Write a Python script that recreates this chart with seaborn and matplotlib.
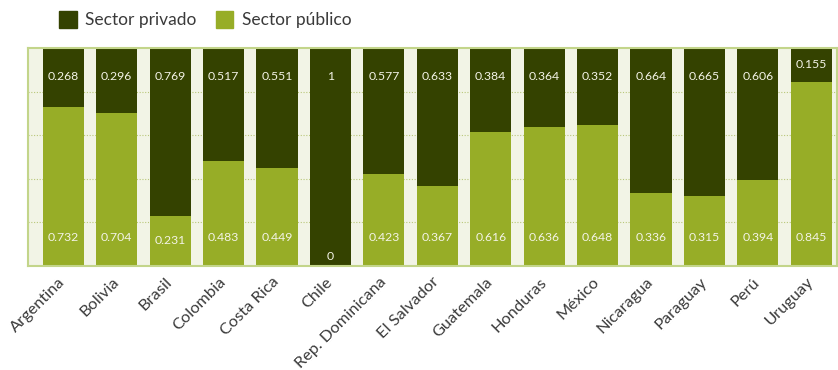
import numpy as np
import pandas as pd
import matplotlib
matplotlib.use("Agg")
import matplotlib.pyplot as plt
import matplotlib.patches as mpatches
import seaborn as sns

countries = ["Argentina", "Bolivia", "Brasil", "Colombia", "Costa Rica", "Chile",
             "Rep. Dominicana", "El Salvador", "Guatemala", "Honduras", "México",
             "Nicaragua", "Paraguay", "Perú", "Uruguay"]
privado = [0.268, 0.296, 0.769, 0.517, 0.551, 1, 0.577, 0.633, 0.384, 0.364,
           0.352, 0.664, 0.665, 0.606, 0.155]
publico = [0.732, 0.704, 0.231, 0.483, 0.449, 0, 0.423, 0.367, 0.616, 0.636,
           0.648, 0.336, 0.315, 0.394, 0.845]

dark = "#344200"
light = "#97ad27"
bg = "#f2f4e6"
edge = "#c3d58a"

df = pd.DataFrame({"pais": countries, "privado": privado, "publico": publico})
# 100% stacked: shares of the total
tot = df["privado"] + df["publico"]
df["total"] = tot / tot
df["pub_share"] = df["publico"] / tot

sns.set_style("white")
plt.rcParams["font.family"] = ["Lato", "DejaVu Sans"]

fig = plt.figure(figsize=(8.38, 3.70), dpi=100)
ax = fig.add_axes([0.0334, 0.281, 0.9654, 0.589])
ax.set_facecolor(bg)

sns.barplot(data=df, x="pais", y="total", color=dark, width=0.77, ax=ax,
            saturation=1, linewidth=0)
sns.barplot(data=df, x="pais", y="pub_share", color=light, width=0.77, ax=ax,
            saturation=1, linewidth=0)

for yv in [0.2, 0.4, 0.6, 0.8]:
    ax.axhline(yv, color="#b9c77a", lw=0.8, ls=(0, (1, 1.5)), zorder=0)

for i, (p, q) in enumerate(zip(privado, publico)):
    yp = max(0.87, 1 - p / 2)
    yq = max(min(0.13, q / 2), 0.045)
    ax.text(i, yp, f"{p:g}", ha="center", va="center", color="#f3f3e6", fontsize=8.8)
    ax.text(i, yq, f"{q:g}", ha="center", va="center", color="#f3f3e6", fontsize=8.8)

ax.set_xlim(-0.66, 14.48)
ax.set_ylim(0, 1.0)
ax.set_yticks([])
ax.set_xlabel("")
ax.set_ylabel("")
ax.tick_params(axis="x", length=0, pad=10)
ax.set_xticks(range(len(countries)))
ax.set_xticklabels(countries, rotation=45, ha="right", va="center",
                   rotation_mode="anchor", fontsize=11.8, color="#3a3a3a")
for side in ["left", "top", "bottom", "right"]:
    ax.spines[side].set_color(edge)
    ax.spines[side].set_linewidth(1.5)

handles = [mpatches.Patch(color=dark, label="Sector privado"),
           mpatches.Patch(color=light, label="Sector público")]
fig.legend(handles=handles, loc="upper left", bbox_to_anchor=(0.052, 1.012), ncol=2,
           frameon=False, fontsize=12.5, handlelength=1.0, handleheight=1.1,
           handletextpad=0.5, columnspacing=1.1, labelcolor="#3a3a3a")

fig.savefig("out.png", dpi=100)
